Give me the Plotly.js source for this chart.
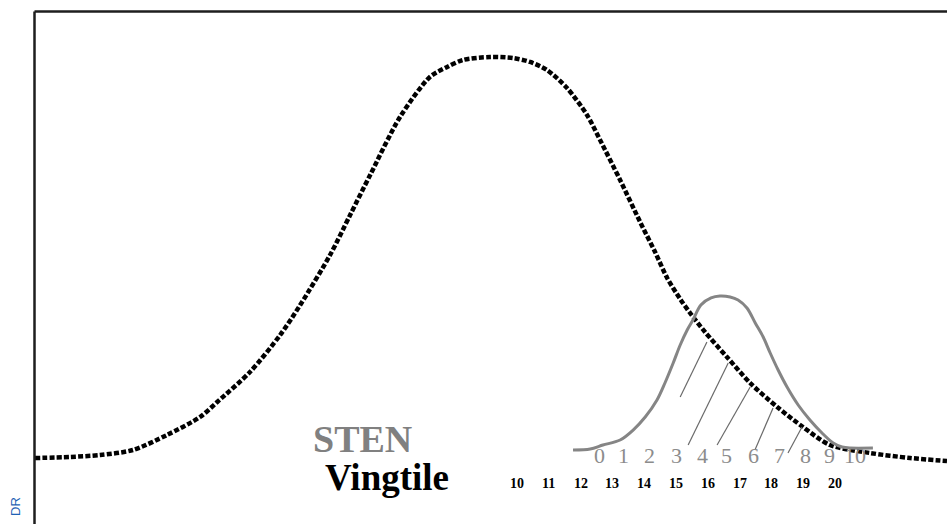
<!DOCTYPE html>
<html>
<head>
<meta charset="utf-8">
<script src="https://cdn.plot.ly/plotly-3.0.1.min.js"></script>
<style>html,body{margin:0;padding:0;background:#fff;}#chart{width:947px;height:524px;}</style>
</head>
<body>
<div id="chart"></div>
<script>
// Population curve (dotted), x in vingtile units, y in % of peak height
const popX = [-5.16,-4.06,-3.11,-2.08,-1.01,0.03,0.57,1.60,2.55,3.18,4.12,4.75,5.38,6.32,7.26,7.80,8.30,9.15,9.87,10.41,10.94,11.57,12.20,12.61,13.24,13.87,14.34,14.72,15.13,15.44,15.91,16.60,17.33,18.18,18.99,19.84,21.10,22.36,23.52];
const popY = [0.50,0.74,1.24,2.48,6.20,10.67,14.39,21.84,31.02,38.46,50.87,60.79,70.72,85.11,95.04,97.52,99.26,100,99.75,98.76,96.77,92.31,85.61,79.40,69.48,59.06,51.61,45.16,39.95,36.48,31.76,25.56,19.11,13.15,8.19,3.72,1.74,0.50,-0.25];

// Selected group curve (grey, STEN)
const grpX = [11.76,12.30,12.70,13.24,13.65,14.03,14.40,14.65,14.91,15.13,15.35,15.53,15.78,16.10,16.38,16.70,16.95,17.23,17.49,17.74,17.96,18.21,18.49,18.84,19.21,19.59,19.94,20.22,20.47,21.19];
const grpY = [2.48,2.73,3.72,4.96,7.44,10.67,14.89,19.11,24.07,28.54,32.26,34.74,38.46,40.20,40.69,40.45,39.70,37.72,34.00,30.52,26.55,22.33,18.11,13.65,9.93,6.70,4.22,3.23,2.98,2.98];

// Hatch segments inside the overlap area
const hatchX0 = [15.13,15.38,16.29,17.48,18.52];
const hatchY0 = [15.63,3.72,3.72,2.48,1.74];
const hatchX1 = [15.97,16.64,17.33,18.05,18.96];
const hatchY1 = [29.28,24.07,18.11,12.90,8.19];

// STEN tick labels and their positions
const stenLabels = ['0','1','2','3','4','5','6','7','8','9','10'];
const stenPos = [12.58,13.36,14.18,15.00,15.82,16.60,17.42,18.24,19.06,19.84,20.63];
const stenLabelY = 1.24;

// Vingtile tick labels
const vingLabels = ['10','11','12','13','14','15','16','17','18','19','20'];
const vingPos = [10,11,12,13,14,15,16,17,18,19,20];
const vingLabelY = -5.71;

const traces = [];
traces.push({x: popX, y: popY, mode: 'lines', type: 'scatter', line: {color: '#000', width: 4.5, dash: '5px,2.2px', shape: 'spline', smoothing: 0.8}, hoverinfo: 'skip'});
traces.push({x: grpX, y: grpY, mode: 'lines', type: 'scatter', line: {color: '#858585', width: 3, shape: 'spline', smoothing: 0.9}, hoverinfo: 'skip'});
for (let i = 0; i < hatchX0.length; i++) {
  traces.push({x: [hatchX0[i], hatchX1[i]], y: [hatchY0[i], hatchY1[i]], mode: 'lines', type: 'scatter', line: {color: '#6a6a6a', width: 1.2}, hoverinfo: 'skip'});
}

const annotations = [];
stenLabels.forEach((t, i) => annotations.push({x: stenPos[i], y: stenLabelY, text: t, showarrow: false, xanchor: 'center', yanchor: 'middle', font: {family: 'Liberation Serif', size: 22, color: '#8c8c8c'}}));
vingLabels.forEach((t, i) => annotations.push({x: vingPos[i], y: vingLabelY, text: '<b>' + t + '</b>', showarrow: false, xanchor: 'center', yanchor: 'middle', font: {family: 'Liberation Serif', size: 14, color: '#000'}}));
annotations.push({x: 5.13, y: 5.21, text: '<b>STEN</b>', showarrow: false, xanchor: 'center', yanchor: 'middle', font: {family: 'Liberation Serif', size: 38, color: '#808080'}});
annotations.push({x: 5.92, y: -4.22, text: '<b>Vingtile</b>', showarrow: false, xanchor: 'center', yanchor: 'middle', font: {family: 'Liberation Serif', size: 37, color: '#000'}});
annotations.push({xref: 'paper', yref: 'paper', x: 15/947, y: 1 - 506/524, text: 'DR', textangle: -90, showarrow: false, xanchor: 'center', yanchor: 'middle', font: {family: 'Liberation Sans', size: 13, color: '#1f62b4'}});

const layout = {
  width: 947, height: 524,
  margin: {l: 0, r: 0, t: 0, b: 0, pad: 0},
  paper_bgcolor: '#fff', plot_bgcolor: '#fff',
  showlegend: false,
  xaxis: {range: [-6.26, 23.52], visible: false, fixedrange: true},
  yaxis: {range: [-15.88, 114.14], visible: false, fixedrange: true},
  annotations: annotations,
  shapes: [
    {type: 'line', xref: 'paper', yref: 'paper', x0: 34.5/947, x1: 1, y0: 1 - 11.5/524, y1: 1 - 11.5/524, line: {color: '#1e1e1e', width: 2.5}},
    {type: 'line', xref: 'paper', yref: 'paper', x0: 34.5/947, x1: 34.5/947, y0: 0, y1: 1 - 11.5/524, line: {color: '#1e1e1e', width: 2.5}}
  ]
};

Plotly.newPlot('chart', traces, layout, {displayModeBar: false, staticPlot: true});
</script>
</body>
</html>
